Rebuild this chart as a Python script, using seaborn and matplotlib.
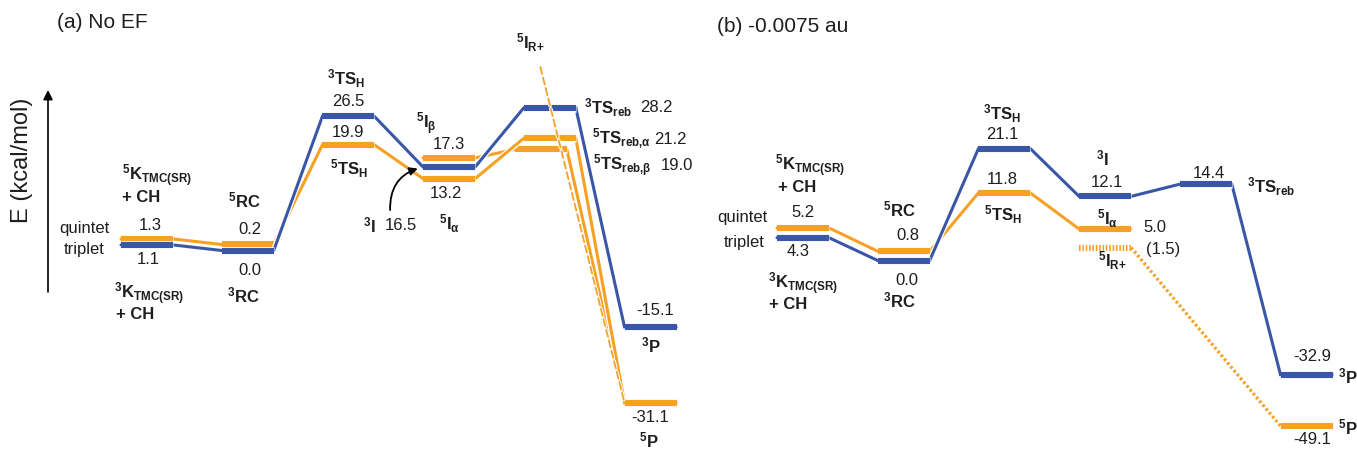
import numpy as np
import pandas as pd
import matplotlib
matplotlib.use("Agg")
import matplotlib.pyplot as plt
import matplotlib.patheffects as pe
from matplotlib.transforms import ScaledTranslation
import seaborn as sns

# Relative energies (kcal/mol); stage order: K, RC, TS_H, I, TS_reb, P
stages = ["K", "RC", "TS_H", "I", "TS_reb", "P"]

# (a) No external field
a_triplet = [1.1, 0.0, 26.5, 16.5, 28.2, -15.1]          # 3K, 3RC, 3TS_H, 3I, 3TS_reb, 3P
a_quintet_alpha = [1.3, 0.2, 19.9, 13.2, 21.2, -31.1]    # 5K, 5RC, 5TS_H, 5I_a, 5TS_reb,a, 5P
a_quintet_beta = [17.3, 19.0, -31.1]                     # 5I_b, 5TS_reb,b, 5P
a_beta_stage = [3, 4, 5]

# (b) Field of -0.0075 au
b_triplet = [4.3, 0.0, 21.1, 12.1, 14.4, -32.9]
b_quintet = [5.2, 0.8, 11.8, 5.0]
b_quintet_stage = [0, 1, 2, 3]
b_radical = [1.5, -49.1]                                 # 5I_R+, 5P
b_radical_stage = [3, 5]

BLUE = "#3a57a7"
ORANGE = "#f7a124"
TEXT = "#1e1e1e"

W, H, DPI = 1357, 453, 100
STEP, HALF = 100.7, 26.0
LEVEL_LW, CONN_LW = 4.4, 2.2
DODGE = 1.8  # points; keeps nearly degenerate spin states apart

sns.set_theme(style="white")
plt.rcParams["font.family"] = ["Liberation Sans", "DejaVu Sans"]
plt.rcParams["mathtext.fontset"] = "custom"
plt.rcParams["mathtext.rm"] = "Liberation Sans"
plt.rcParams["mathtext.it"] = "Liberation Sans:italic"
plt.rcParams["mathtext.bf"] = "Liberation Sans:bold"
plt.rcParams["mathtext.sf"] = "Liberation Sans"

fig = plt.figure(figsize=(W / DPI, H / DPI), dpi=DPI)
axA = fig.add_axes([0, 0, 700 / W, 1])
axB = fig.add_axes([700 / W, 0, (W - 700) / W, 1])

# panel (b) compresses the exothermic part of the energy axis
R = 0.655


def fwd(y):
    y = np.asarray(y, dtype=float)
    return np.where(y < 0, y * R, y)


def inv(u):
    u = np.asarray(u, dtype=float)
    return np.where(u < 0, u / R, u)


axB.set_yscale("function", functions=(fwd, inv))


def halo(lw, extra=1.8):
    return [pe.Stroke(linewidth=lw + extra, foreground="white"), pe.Normal()]


def dodge(ax, pts):
    return ax.transData + ScaledTranslation(0, pts / 72, fig.dpi_scale_trans)


def fmt(v):
    return f"{v:.1f}"


def name(spin, base, sub=None):
    s = r"$^{\mathbf{%s}}\mathbf{%s}" % (spin, base)
    if sub:
        s += r"_{\mathbf{%s}}" % sub
    return s + "$"


def series_frame(x0, idx, energy, shift=None):
    shift = shift or [0.0] * len(idx)
    rows = []
    for k, (i, e, s) in enumerate(zip(idx, energy, shift)):
        c = x0 + STEP * i + s
        rows += [(k, c - HALF, e), (k, c + HALF, e)]
    return pd.DataFrame(rows, columns=["level", "x", "E"])


def draw_series(ax, df, color, tr, z, connect=True):
    if connect:
        sns.lineplot(data=df, x="x", y="E", sort=False, estimator=None, color=color,
                     linewidth=CONN_LW, ax=ax, transform=tr, path_effects=halo(CONN_LW),
                     solid_joinstyle="miter", zorder=z)
    sns.lineplot(data=df, x="x", y="E", units="level", sort=False, estimator=None,
                 color=color, linewidth=LEVEL_LW, ax=ax, transform=tr,
                 path_effects=halo(LEVEL_LW), solid_capstyle="butt", zorder=z + 0.1)


def put(ax, tr, x, y, s, dx, dy, ha="center", size=12, bold=False, color=TEXT):
    ax.annotate(s, xy=(x, y), xycoords=tr, xytext=(dx, -dy), textcoords="offset pixels",
                ha=ha, va="center", fontsize=size,
                fontweight="bold" if bold else "normal", color=color, zorder=10)


RA, RB = "reb{,}α", "reb{,}β"

# ---------------- panel (a) ----------------
x0A = 147.0
cA = lambda i: x0A + STEP * i
trQA, trTA = dodge(axA, DODGE), dodge(axA, -DODGE)
all_stages = list(range(len(stages)))

draw_series(axA, series_frame(x0A, a_beta_stage, a_quintet_beta, [0.0, -9.0, 0.0]), ORANGE, trQA, 2)
draw_series(axA, series_frame(x0A, all_stages, a_quintet_alpha), ORANGE, trQA, 3)
draw_series(axA, series_frame(x0A, all_stages, a_triplet), BLUE, trTA, 4)

# radical-rebound quintet path runs off the top of the diagram
axA.annotate(name("5", "I", "R{+}"), xy=(cA(5) - HALF, a_quintet_alpha[5]), xycoords=trQA,
             xytext=(530, H - 43), textcoords="figure pixels", ha="center", va="center",
             fontsize=12, color=TEXT, zorder=10,
             arrowprops=dict(arrowstyle="-", color=ORANGE, lw=1.3, linestyle=(0, (4, 2)),
                             shrinkA=7, shrinkB=0, relpos=(0.75, 0.0),
                             path_effects=halo(1.3, 1.4)))

q, qb, t = a_quintet_alpha, a_quintet_beta, a_triplet
put(axA, trQA, cA(0), q[0], fmt(q[0]), 3, -13)
put(axA, trQA, cA(0), q[0], name("5", "K", "TMC(SR)"), -25, -63, ha="left")
put(axA, trQA, cA(0), q[0], "+ CH", -25, -41, ha="left", bold=True)
put(axA, trQA, cA(0), q[0], "quintet", -38, -10, ha="right")
put(axA, trQA, cA(1), q[1], name("5", "RC"), -3, -44)
put(axA, trQA, cA(1), q[1], fmt(q[1]), 2, -15)
put(axA, trQA, cA(2), q[2], fmt(q[2]), 0, -12)
put(axA, trQA, cA(2), q[2], name("5", "TS", "H"), 1, 24)
put(axA, trQA, cA(3), qb[0], name("5", "I", "β"), -23, -34)
put(axA, trQA, cA(3), qb[0], fmt(qb[0]), 0, -13)
put(axA, trQA, cA(3), q[3], fmt(q[3]), -3, 15)
put(axA, trQA, cA(3), q[3], name("5", "I", "α"), 0, 45)
put(axA, trQA, cA(4), q[4], name("5", "TS", RA), 42, 1, ha="left")
put(axA, trQA, cA(4), q[4], fmt(q[4]), 121, 1)
put(axA, trQA, cA(4) - 9, qb[1], name("5", "TS", RB), 52, 16, ha="left")
put(axA, trQA, cA(4) - 9, qb[1], fmt(qb[1]), 136, 16)
put(axA, trQA, cA(5), q[5], fmt(q[5]), 0, 15)
put(axA, trQA, cA(5), q[5], name("5", "P"), -2, 38)

put(axA, trTA, cA(0), t[0], fmt(t[0]), 1, 15)
put(axA, trTA, cA(0), t[0], name("3", "K", "TMC(SR)"), -33, 49, ha="left")
put(axA, trTA, cA(0), t[0], "+ CH", -31, 70, ha="left", bold=True)
put(axA, trTA, cA(0), t[0], "triplet", -42, 5, ha="right")
put(axA, trTA, cA(1), t[1], fmt(t[1]), 2, 20)
put(axA, trTA, cA(1), t[1], name("3", "RC"), -4, 45)
put(axA, trTA, cA(2), t[2], name("3", "TS", "H"), -2, -38)
put(axA, trTA, cA(2), t[2], fmt(t[2]), 0, -15)
put(axA, trTA, cA(3), t[3], name("3", "I"), -80, 58)
put(axA, trTA, cA(3), t[3], fmt(t[3]), -48, 58)
put(axA, trTA, cA(4), t[4], name("3", "TS", "reb"), 34, 0, ha="left")
put(axA, trTA, cA(4), t[4], fmt(t[4]), 107, 0)
put(axA, trTA, cA(5), t[5], fmt(t[5]), 5, -16)
put(axA, trTA, cA(5), t[5], name("3", "P"), 0, 19)

# curved pointer from the 3I label to its level
axA.annotate("", xy=(cA(3) - HALF, t[3]), xycoords=trTA, xytext=(-33, -43),
             textcoords="offset pixels",
             arrowprops=dict(arrowstyle="-|>", connectionstyle="arc3,rad=-0.4",
                             color="black", lw=1.3, mutation_scale=12, shrinkA=0, shrinkB=4))

# ---------------- panel (b) ----------------
x0B = 803.0
cB = lambda i: x0B + STEP * i
trQB, trTB = dodge(axB, DODGE), dodge(axB, -DODGE)

draw_series(axB, series_frame(x0B, b_quintet_stage, b_quintet), ORANGE, trQB, 2)
draw_series(axB, series_frame(x0B, all_stages, b_triplet), BLUE, trTB, 4)

# radical intermediate and its dotted route to 5P
rad = series_frame(x0B, b_radical_stage, b_radical)
axB.plot(rad.x[:2], rad.E[:2], color=ORANGE, lw=LEVEL_LW, dashes=(0.25, 0.3),
         solid_capstyle="butt", dash_capstyle="butt", transform=trQB, zorder=2.5)
axB.plot(rad.x[1:3], rad.E[1:3], color=ORANGE, lw=2.4, dashes=(0.75, 0.75),
         transform=trQB, zorder=2.4)
draw_series(axB, rad.iloc[2:], ORANGE, trQB, 2.5, connect=False)

q, t = b_quintet, b_triplet
put(axB, trQB, cB(0), q[0], fmt(q[0]), 0, -15)
put(axB, trQB, cB(0), q[0], name("5", "K", "TMC(SR)"), -28, -62, ha="left")
put(axB, trQB, cB(0), q[0], "+ CH", -25, -40, ha="left", bold=True)
put(axB, trQB, cB(0), q[0], "quintet", -36, -10, ha="right")
put(axB, trQB, cB(1), q[1], name("5", "RC"), -4, -42)
put(axB, trQB, cB(1), q[1], fmt(q[1]), 4, -16)
put(axB, trQB, cB(2), q[2], fmt(q[2]), -2, -13)
put(axB, trQB, cB(2), q[2], name("5", "TS", "H"), -1, 22)
put(axB, trQB, cB(3), q[3], name("5", "I", "α"), 2, -10)
put(axB, trQB, cB(3), q[3], fmt(q[3]), 50, -2)
put(axB, trQB, cB(3), b_radical[0], f"({fmt(b_radical[0])})", 58, 2)
put(axB, trQB, cB(3), b_radical[0], name("5", "I", "R{+}"), 7, 13)
put(axB, trQB, cB(5), b_radical[1], fmt(b_radical[1]), 6, 14)
put(axB, trQB, cB(5), b_radical[1], name("5", "P"), 31, 1, ha="left")

put(axB, trTB, cB(0), t[0], fmt(t[0]), -5, 14)
put(axB, trTB, cB(0), t[0], name("3", "K", "TMC(SR)"), -35, 46, ha="left")
put(axB, trTB, cB(0), t[0], "+ CH", -34, 67, ha="left", bold=True)
put(axB, trTB, cB(0), t[0], "triplet", -38, 5, ha="right")
put(axB, trTB, cB(1), t[1], fmt(t[1]), 3, 20)
put(axB, trTB, cB(1), t[1], name("3", "RC"), -4, 40)
put(axB, trTB, cB(2), t[2], name("3", "TS", "H"), -2, -35)
put(axB, trTB, cB(2), t[2], fmt(t[2]), -2, -14)
put(axB, trTB, cB(3), t[3], name("3", "I"), -3, -38)
put(axB, trTB, cB(3), t[3], fmt(t[3]), 2, -14)
put(axB, trTB, cB(4), t[4], fmt(t[4]), 3, -11)
put(axB, trTB, cB(4), t[4], name("3", "TS", "reb"), 41, 3, ha="left")
put(axB, trTB, cB(5), t[5], fmt(t[5]), 6, -18)
put(axB, trTB, cB(5), t[5], name("3", "P"), 31, 2, ha="left")

# ---------------- frame: titles, energy arrow ----------------
fig.text(57 / W, 1 - 22 / H, "(a) No EF", fontsize=15, va="center", ha="left", color=TEXT)
fig.text(717 / W, 1 - 27 / H, "(b) -0.0075 au", fontsize=15, va="center", ha="left", color=TEXT)
fig.text(22 / W, 1 - 160 / H, "E (kcal/mol)", rotation=90, fontsize=17,
         va="center", ha="center", color=TEXT)
axA.annotate("", xy=(48, H - 90), xycoords="figure pixels", xytext=(48, H - 292),
             textcoords="figure pixels",
             arrowprops=dict(arrowstyle="-|>", color="black", lw=1.2, mutation_scale=14,
                             shrinkA=0, shrinkB=0))

for ax in (axA, axB):
    ax.set_axis_off()
axA.set_xlim(0, 700)
axA.set_ylim(-(H - 248) / 5.06, 248 / 5.06)
axB.set_xlim(700, W)
axB.set_ylim(float(inv(-(H - 258) / 5.3)), 258 / 5.3)

fig.savefig("out.png", dpi=DPI, facecolor="white")
